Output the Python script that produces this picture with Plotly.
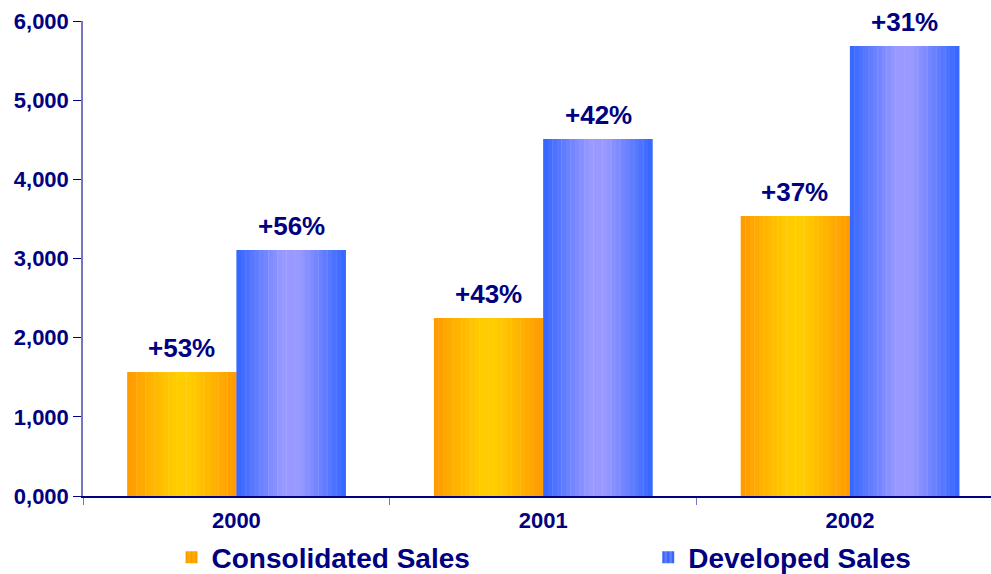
import plotly.graph_objects as go

years = ["2000", "2001", "2002"]
consolidated = [1566, 2248, 3537]
developed = [3107, 4509, 5684]
cons_growth = ["+53%", "+43%", "+37%"]
dev_growth = ["+56%", "+42%", "+31%"]
ytick_vals = [0, 1000, 2000, 3000, 4000, 5000, 6000]
ytick_text = ["0,000", "1,000", "2,000", "3,000", "4,000", "5,000", "6,000"]

NAVY = "#000080"
LAV = "#7777BB"
FONT = "Liberation Sans, Arial, sans-serif"
BAR_W = 0.356
N = 24


def lerp(c1, c2, t):
    return "rgb(%d,%d,%d)" % tuple(round(a + (b - a) * t) for a, b in zip(c1, c2))


def grad(edge, center, t):
    # symmetric gradient: edge -> center -> edge
    d = abs(t - 0.5) * 2
    d = min(1.0, max(0.0, (d - 0.15) / 0.85))
    return lerp(center, edge, d)


fig = go.Figure()


def add_series(values, start, edge, center):
    sw = BAR_W / N
    for i in range(N):
        t = (i + 0.5) / N
        fig.add_trace(go.Bar(
            x=years, y=values,
            offset=start + i * sw, width=sw * 1.08,
            marker=dict(color=grad(edge, center, t), line=dict(width=0)),
            showlegend=False, hoverinfo="skip",
        ))


add_series(consolidated, -BAR_W, (255, 153, 0), (255, 204, 0))
add_series(developed, 0.0, (51, 102, 255), (153, 153, 255))

# legend entries
fig.add_trace(go.Bar(
    x=years, y=[None] * 3, name="Consolidated Sales", legend="legend",
    marker=dict(color="#FF9900", line=dict(width=0),
                pattern=dict(shape="|", fgcolor="#FFCC00", bgcolor="#FF9900", size=6, solidity=0.5)),
))
fig.add_trace(go.Bar(
    x=years, y=[None] * 3, name="Developed Sales", legend="legend2",
    marker=dict(color="#3366FF", line=dict(width=0),
                pattern=dict(shape="|", fgcolor="#9999FF", bgcolor="#3366FF", size=6, solidity=0.5)),
))

annotations = []
label_font = dict(family=FONT, size=26, color=NAVY, weight="bold")
for i, (v, g) in enumerate(zip(consolidated, cons_growth)):
    annotations.append(dict(x=i, y=v, text=g, showarrow=False, xshift=-55, yshift=7,
                            yanchor="bottom", font=label_font))
for i, (v, g) in enumerate(zip(developed, dev_growth)):
    annotations.append(dict(x=i, y=v, text=g, showarrow=False, xshift=55, yshift=7,
                            yanchor="bottom", font=label_font))

legend_style = dict(
    orientation="h", xanchor="left", yref="container", y=0.072, yanchor="top",
    font=dict(family=FONT, size=28, color=NAVY, weight="bold"),
    bgcolor="rgba(0,0,0,0)",
)

fig.update_layout(
    width=991, height=574,
    margin=dict(l=83, r=0, t=21, b=78, autoexpand=False),
    paper_bgcolor="white", plot_bgcolor="white",
    barmode="overlay",
    font=dict(family=FONT, color=NAVY),
    annotations=annotations,
    xaxis=dict(
        type="category", range=[-0.5, 2.46], tickson="boundaries", ticks="outside", ticklen=7,
        tickcolor=LAV, showline=True, linecolor=NAVY, linewidth=1.5,
        showgrid=False, zeroline=False, automargin=False, ticklabelstandoff=4,
        tickfont=dict(family=FONT, size=22, color=NAVY, weight="bold"),
    ),
    yaxis=dict(
        range=[0, 6000], tickvals=ytick_vals, ticktext=ytick_text,
        ticks="outside", ticklen=8, tickcolor=NAVY,
        showline=True, linecolor=LAV, linewidth=1.5,
        showgrid=False, zeroline=False, automargin=False,
        tickfont=dict(family=FONT, size=22, color=NAVY, weight="bold"),
    ),
    legend=dict(x=0.0975, **legend_style),
    legend2=dict(x=0.6225, **legend_style),
)

fig.write_html("out.html", config={"displayModeBar": False},
               post_script="document.body.style.margin='0';")
